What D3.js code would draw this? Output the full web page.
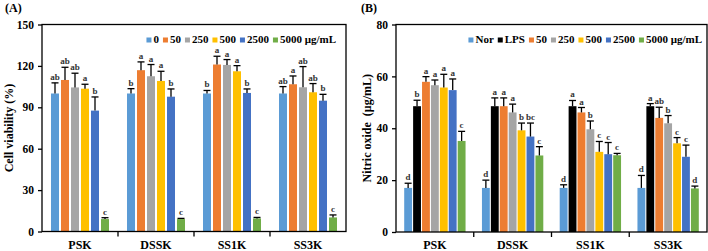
<!DOCTYPE html>
<html>
<head>
<meta charset="utf-8">
<script src="https://cdn.jsdelivr.net/npm/d3@7"></script>
<style>
  body { margin: 0; background: #fff; }
  svg { display: block; }
  svg text { font-family: "Liberation Serif", Tinos, "Times New Roman", serif; font-weight: bold; }
</style>
</head>
<body>
<svg id="chart" width="708" height="251"></svg>
<script>
const CATEGORIES = ['PSK', 'DSSK', 'SS1K', 'SS3K'];

// (A) cell viability
const VIA_SERIES = ['0', '50', '250', '500', '2500', '5000 μg/mL'];
const VIA_COLORS = ['#5B9BD5', '#ED7D31', '#A5A5A5', '#FFC000', '#4472C4', '#70AD47'];
const VIA_TICKS = [0, 30, 60, 90, 120, 150];
const VIA_VALUES = [
  [100, 109.8, 104.4, 103.5, 87.6, 9.0],
  [100, 116.9, 112.5, 109.1, 97.7, 9.0],
  [100, 121.0, 120.7, 116.1, 100.4, 9.5],
  [100, 106.7, 104.5, 100.9, 94.8, 10.2],
];
const VIA_ERRORS = [
  [7.7, 9.2, 10.3, 3.2, 9.9, 1.0],
  [3.5, 6.0, 8.5, 7.0, 5.6, 0.5],
  [2.2, 6.0, 3.9, 4.1, 2.9, 0.7],
  [5.0, 6.0, 15.0, 6.3, 4.6, 1.8],
];
const VIA_LETTERS = [
  ['ab', 'ab', 'ab', 'a', 'b', 'c'],
  ['b', 'a', 'a', 'a', 'b', 'c'],
  ['b', 'a', 'a', 'a', 'b', 'c'],
  ['ab', 'a', 'ab', 'ab', 'b', 'c'],
];

// (B) nitric oxide
const NO_SERIES = ['Nor', 'LPS', '50', '250', '500', '2500', '5000 μg/mL'];
const NO_COLORS = ['#5B9BD5', '#000000', '#ED7D31', '#A5A5A5', '#FFC000', '#4472C4', '#70AD47'];
const NO_TICKS = [0, 20, 40, 60, 80];
const NO_VALUES = [
  [17.0, 48.5, 57.9, 56.6, 55.7, 54.7, 35.1],
  [17.0, 48.5, 48.5, 46.1, 39.2, 36.8, 29.5],
  [17.0, 48.5, 46.1, 39.6, 30.9, 30.0, 29.6],
  [17.0, 48.5, 44.0, 41.9, 34.2, 29.0, 16.8],
];
const NO_ERRORS = [
  [1.8, 2.3, 2.0, 2.0, 5.1, 4.3, 3.7],
  [3.0, 3.2, 3.2, 3.2, 2.8, 5.2, 3.4],
  [1.2, 2.2, 1.9, 3.2, 4.0, 4.5, 0.7],
  [4.8, 1.0, 4.1, 3.0, 2.2, 4.5, 0.9],
];
const NO_LETTERS = [
  ['d', 'b', 'a', 'a', 'a', 'a', 'c'],
  ['d', 'a', 'a', 'a', 'b', 'bc', 'c'],
  ['d', 'a', 'a', 'b', 'c', 'c', 'c'],
  ['d', 'a', 'ab', 'b', 'c', 'c', 'd'],
];

const svg = d3.select('#chart');

function drawPanel(p) {
  const x = d3.scaleBand().domain(CATEGORIES).range([p.left, p.right]);
  const xs = d3.scaleBand().domain(d3.range(p.series.length))
    .range([0, x.bandwidth()]).paddingInner(p.padIn).paddingOuter(p.padOut);
  const y = d3.scaleLinear().domain([0, p.max]).range([p.bottom, p.top]);

  const g = svg.append('g');

  // bars + error bars + letters
  CATEGORIES.forEach((c, ci) => {
    p.values[ci].forEach((v, si) => {
      const bx = x(c) + xs(si);
      const cx = bx + xs.bandwidth() / 2;
      g.append('rect')
        .attr('x', bx).attr('y', y(v))
        .attr('width', xs.bandwidth()).attr('height', y(0) - y(v))
        .attr('fill', p.colors[si]);
      const top = y(v + p.errors[ci][si]);
      g.append('line')
        .attr('x1', cx).attr('x2', cx).attr('y1', y(v)).attr('y2', top)
        .attr('stroke', '#000').attr('stroke-width', 1.3);
      g.append('line')
        .attr('x1', cx - 3.5).attr('x2', cx + 3.5).attr('y1', top).attr('y2', top)
        .attr('stroke', '#000').attr('stroke-width', 1.3);
      g.append('text')
        .attr('x', cx).attr('y', top - 3)
        .attr('text-anchor', 'middle')
        .attr('font-size', '9px')
        .attr('fill', '#333')
        .text(p.letters[ci][si]);
    });
  });

  // frame
  g.append('rect')
    .attr('x', p.left).attr('y', p.top)
    .attr('width', p.right - p.left).attr('height', p.bottom - p.top)
    .attr('fill', 'none').attr('stroke', '#000').attr('stroke-width', 1.3);

  // y axis
  const ya = g.append('g')
    .attr('transform', `translate(${p.left},0)`)
    .call(d3.axisLeft(y).tickValues(p.ticks).tickSize(4).tickPadding(4));
  ya.attr('font-family', null);
  ya.select('.domain').remove();
  ya.selectAll('line').attr('stroke-width', 1.3);
  ya.selectAll('text')
    .attr('font-size', '11.5px')
    .attr('fill', '#000');

  // x axis: ticks between categories, labels centred
  CATEGORIES.slice(1).forEach(c => {
    g.append('line')
      .attr('x1', x(c)).attr('x2', x(c))
      .attr('y1', p.bottom).attr('y2', p.bottom + 5)
      .attr('stroke', '#000').attr('stroke-width', 1.3);
  });
  CATEGORIES.forEach(c => {
    g.append('text')
      .attr('x', x(c) + x.bandwidth() / 2).attr('y', 248.5)
      .attr('text-anchor', 'middle')
      .attr('font-size', '12px')
      .text(c);
  });

  // y title
  g.append('text')
    .attr('transform', `translate(${p.titleX},${(p.top + p.bottom) / 2}) rotate(-90)`)
    .attr('text-anchor', 'middle')
    .attr('dy', '0.35em')
    .attr('font-size', '12px')
    .style('white-space', 'pre')
    .text(p.yTitle);

  // panel label
  g.append('text')
    .attr('x', p.labelX).attr('y', 12)
    .attr('font-size', '12px')
    .text(p.label);

  // legend
  const lg = g.append('g');
  let lx = 0;
  p.series.forEach((s, i) => {
    lg.append('rect')
      .attr('x', lx).attr('y', -5.5)
      .attr('width', 5).attr('height', 5)
      .attr('fill', p.colors[i]);
    const t = lg.append('text')
      .attr('x', lx + 7).attr('y', 0)
      .attr('font-size', '11px')
      .text(s);
    lx += 7 + t.node().getComputedTextLength() + 4;
  });
  lx -= 4;
  lg.attr('transform', `translate(${p.legendRight - lx},43)`);
}

drawPanel({
  left: 42, right: 346, top: 24.5, bottom: 231.5, max: 150,
  series: VIA_SERIES, colors: VIA_COLORS, ticks: VIA_TICKS,
  values: VIA_VALUES, errors: VIA_ERRORS, letters: VIA_LETTERS,
  padIn: 0.2, padOut: 0.9,
  yTitle: 'Cell viability (%)', titleX: 9,
  label: '(A)', labelX: 5, legendRight: 336,
});

drawPanel({
  left: 396, right: 707, top: 24.5, bottom: 232, max: 80,
  series: NO_SERIES, colors: NO_COLORS, ticks: NO_TICKS,
  values: NO_VALUES, errors: NO_ERRORS, letters: NO_LETTERS,
  padIn: 0.12, padOut: 0.92,
  yTitle: 'Nitric oxide  (μg/mL)', titleX: 367,
  label: '(B)', labelX: 361, legendRight: 702,
});
</script>
</body>
</html>
